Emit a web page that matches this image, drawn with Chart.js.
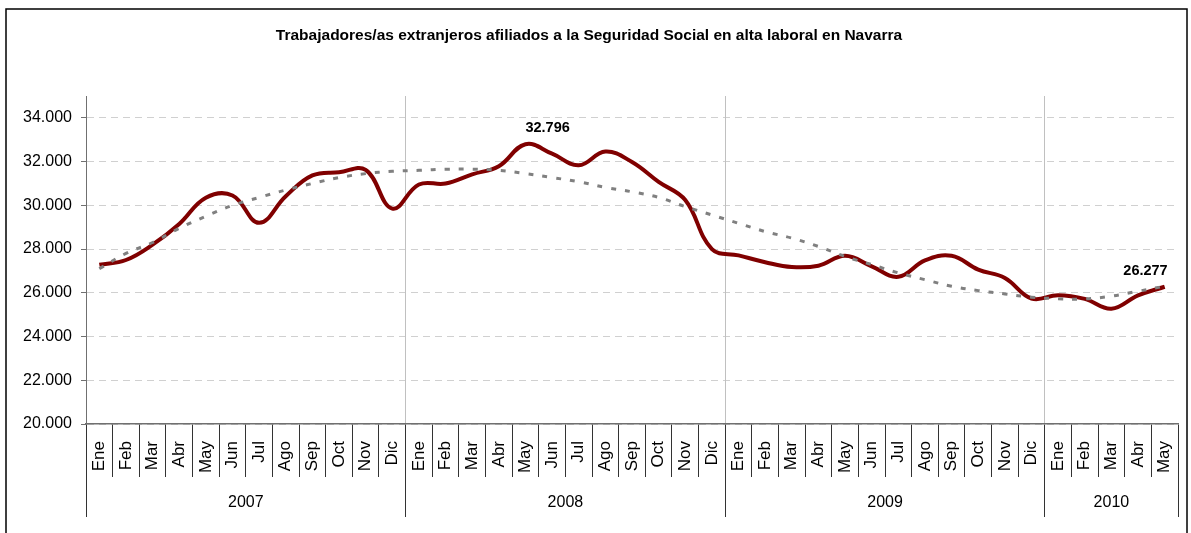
<!DOCTYPE html>
<html>
<head>
<meta charset="utf-8">
<script src="https://cdn.jsdelivr.net/npm/chart.js@4.4.1/dist/chart.umd.min.js"></script>
<style>
  html, body { margin: 0; padding: 0; background: #fff; }
  #wrap { width: 1191px; height: 533px; position: relative; }
</style>
</head>
<body>
<div id="wrap"><canvas id="c"></canvas></div>
<script>
// ---------- DATA ----------
const title = 'Trabajadores/as extranjeros afiliados a la Seguridad Social en alta laboral en Navarra';
const monthNames = ['Ene','Feb','Mar','Abr','May','Jun','Jul','Ago','Sep','Oct','Nov','Dic'];
const years = ['2007','2008','2009','2010'];
const monthsPerYear = [12, 12, 12, 5];

const afiliados = [
  27280, 27500, 28200, 29150, 30350, 30450, 29200, 30420, 31370, 31510, 31620, 29850,
  30950, 31000, 31420, 31790, 32796, 32360, 31830, 32460, 31980, 31070, 30240, 28000,
  27710, 27400, 27180, 27240, 27690, 27210, 26730, 27480, 27690, 27060, 26680, 25740,
  25890, 25720, 25270, 25880, 26277
];
const tendencia = [
  27100, 27800, 28300, 28950, 29500, 30000, 30360, 30700, 31000, 31270, 31450, 31560,
  31600, 31650, 31650, 31600, 31450, 31270, 31080, 30820, 30620, 30360, 29940, 29560,
  29180, 28800, 28500, 28120, 27660, 27290, 26910, 26600, 26300, 26100, 25950, 25800,
  25730, 25720, 25850, 26070, 26300
];
const yTicks = [20000, 22000, 24000, 26000, 28000, 30000, 32000, 34000];
const yMin = 20000, yMax = 35000;

// ---------- derived ----------
const labels = [];
years.forEach((y, i) => { for (let m = 0; m < monthsPerYear[i]; m++) labels.push(monthNames[m]); });
const N = labels.length;
const yearBounds = [-0.5];
const yearCenters = [];
{
  let acc = -0.5;
  monthsPerYear.forEach(n => { yearCenters.push(acc + n / 2); acc += n; yearBounds.push(acc); });
}
const fmt = v => String(Math.round(v)).replace(/\B(?=(\d{3})+(?!\d))/g, '.');
const isBound = v => yearBounds.some(b => Math.abs(b - v) < 1e-6);
const isInnerBound = v => isBound(v) && v > -0.5 + 1e-6 && v < N - 0.5 - 1e-6;

const SANS = "'Liberation Sans', Arial, sans-serif";

const framePlugin = {
  id: 'frame',
  beforeDraw(chart) {
    const ctx = chart.ctx;
    ctx.save();
    ctx.fillStyle = '#fff';
    ctx.fillRect(0, 0, chart.width, chart.height);
    ctx.strokeStyle = '#000';
    ctx.lineWidth = 1.5;
    ctx.strokeRect(6, 9, chart.width - 10, chart.height + 20);
    ctx.restore();
  }
};

const valueLabels = {
  id: 'valueLabels',
  afterDatasetsDraw(chart) {
    const dsIndex = chart.data.datasets.findIndex(d => d.id === 'main');
    const meta = chart.getDatasetMeta(dsIndex);
    const data = chart.data.datasets[dsIndex].data;
    let iMax = 0;
    data.forEach((v, i) => { if (v > data[iMax]) iMax = i; });
    const iLast = data.length - 1;
    const ctx = chart.ctx;
    ctx.save();
    ctx.fillStyle = '#000';
    ctx.font = 'bold 14.5px ' + SANS;
    ctx.textBaseline = 'alphabetic';
    [[iMax, 'left', 0], [iLast, 'right', 3]].forEach(([i, align, dx]) => {
      const p = meta.data[i];
      ctx.textAlign = align;
      ctx.fillText(fmt(data[i]), p.x + dx, p.y - 12);
    });
    ctx.restore();
  }
};

new Chart(document.getElementById('c'), {
  type: 'line',
  data: {
    labels: labels,
    datasets: [
      {
        id: 'main',
        data: afiliados,
        borderColor: '#800000',
        borderWidth: 4,
        tension: 0.4,
        pointRadius: 0,
        fill: false,
        order: 1,
        xAxisID: 'x',
        yAxisID: 'y'
      },
      {
        id: 'trend',
        data: tendencia,
        borderColor: '#808080',
        borderWidth: 3,
        borderDash: [5, 9],
        tension: 0.4,
        pointRadius: 0,
        fill: false,
        order: 0,
        xAxisID: 'x',
        yAxisID: 'y'
      }
    ]
  },
  options: {
    responsive: true,
    maintainAspectRatio: false,
    animation: false,
    layout: { padding: { left: 0, right: 13, top: 0, bottom: 16 } },
    plugins: {
      legend: { display: false },
      tooltip: { enabled: false },
      title: {
        display: true,
        text: title,
        color: '#000',
        font: { family: SANS, size: 15.5, weight: 'bold' },
        padding: { top: 26.7, bottom: 50.7 }
      }
    },
    scales: {
      y: {
        position: 'left',
        min: yMin,
        max: yMax,
        afterBuildTicks: s => { s.ticks = yTicks.map(v => ({ value: v })); },
        afterFit: s => { s.width = 86; s.paddingTop = 0; s.paddingBottom = 0; },
        ticks: {
          callback: v => fmt(v),
          color: '#000',
          font: { family: SANS, size: 16 },
          padding: 9
        },
        grid: {
          color: '#d0d0d0',
          lineWidth: 1,
          tickLength: 5,
          tickColor: '#707070',
          tickBorderDash: []
        },
        border: { display: true, color: '#707070', width: 1, dash: [7, 5] }
      },
      x: {
        type: 'category',
        position: 'bottom',
        offset: true,
        weight: 0,
        afterFit: s => { s.height = 53; s.paddingLeft = 0; s.paddingRight = 0; },
        ticks: {
          autoSkip: false,
          minRotation: 90,
          maxRotation: 90,
          color: '#000',
          font: { family: SANS, size: 17 },
          padding: -36
        },
        grid: {
          offset: true,
          drawOnChartArea: false,
          drawTicks: true,
          tickLength: 53,
          tickColor: '#333',
          color: '#333'
        },
        border: { display: true, color: '#707070', width: 1.5 }
      },
      year: {
        type: 'linear',
        axis: 'x',
        position: 'bottom',
        weight: 1,
        min: -0.5,
        max: N - 0.5,
        afterBuildTicks: s => {
          s.ticks = yearBounds.concat(yearCenters).sort((a, b) => a - b).map(v => ({ value: v }));
        },
        afterFit: s => { s.height = 40; s.paddingLeft = 0; s.paddingRight = 0; },
        ticks: {
          autoSkip: false,
          maxRotation: 0,
          minRotation: 0,
          color: '#000',
          font: { family: SANS, size: 16 },
          padding: -24,
          callback: v => {
            const k = yearCenters.findIndex(c => Math.abs(c - v) < 1e-6);
            return k >= 0 ? years[k] : '';
          }
        },
        grid: {
          drawOnChartArea: true,
          drawTicks: true,
          tickLength: 40,
          lineWidth: 1,
          color: c => (c.tick && isInnerBound(c.tick.value)) ? '#c0c0c0' : 'rgba(0,0,0,0)',
          tickColor: c => (c.tick && isBound(c.tick.value)) ? '#333' : 'rgba(0,0,0,0)'
        },
        border: { display: false }
      }
    }
  },
  plugins: [framePlugin, valueLabels]
});
</script>
</body>
</html>
